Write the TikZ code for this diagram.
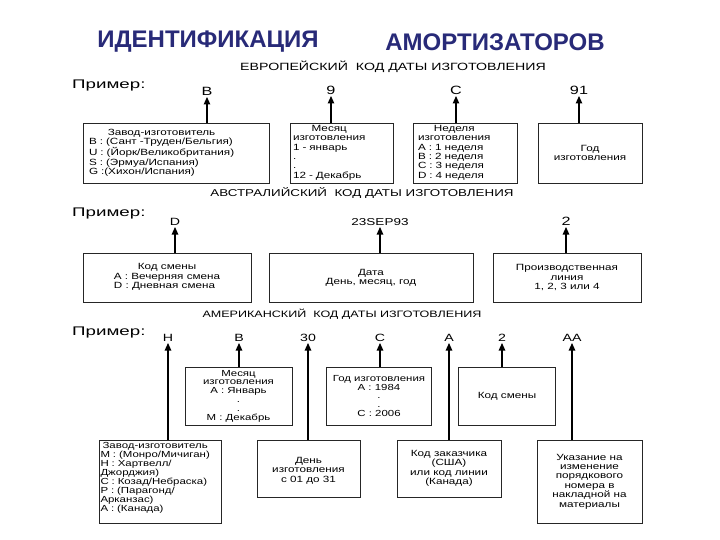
\documentclass[tikz,border=0pt]{standalone}
\usepackage{fontspec}
\setmainfont{Liberation Sans}
\newfontfamily\widefont{Liberation Sans}[FakeStretch=1.35]
\newfontfamily\primfont{Liberation Sans}[FakeStretch=1.5]
\newfontfamily\boxff{Liberation Sans}[FakeStretch=1.3]
\usetikzlibrary{arrows.meta}
\newcommand\boxfont{\boxff\fontsize{9}{9.4}\selectfont}
\newcommand\tightfont{\boxff\fontsize{8.8}{8.8}\selectfont}
\definecolor{navy}{RGB}{40,42,120}
\begin{document}
\begin{tikzpicture}[x=1pt,y=-1pt,
  box/.style={draw=black!85, line width=0.8pt, inner sep=0pt, font=\boxfont},
  lbl/.style={inner sep=1.5pt, anchor=south, font=\widefont\fontsize{10.5}{11}\selectfont},
  lblbig/.style={lbl, font=\widefont\fontsize{12}{12}\selectfont},
  arr/.style={line width=1.1pt, -{Triangle[length=7.5pt,width=6.5pt]}},
  ttl/.style={font=\fontsize{24}{24}\selectfont\bfseries, text=navy, inner sep=0pt},
  sub/.style={font=\widefont\fontsize{9.3}{10}\selectfont, inner sep=0pt},
  prim/.style={font=\primfont\fontsize{12.5}{13}\selectfont, inner sep=0pt, anchor=west},
]
\useasboundingbox (0,0) rectangle (720,540);
\fill[white] (0,0) rectangle (720,540);

% titles
\node[ttl] (t1) at (208,42) {ИДЕНТИФИКАЦИЯ};
\node[ttl] (t2) at (495,42) {АМОРТИЗАТОРОВ};

% ---------------- European
\node[sub, font=\widefont\fontsize{10.5}{11}\selectfont] (s1) at (393,67) {ЕВРОПЕЙСКИЙ\ \ КОД ДАТЫ ИЗГОТОВЛЕНИЯ};
\node[prim] (p1) at (72,85) {Пример:};
\node[lblbig] (eB) at (207,97) {B};
\node[lblbig] (e9) at (331,96) {9};
\node[lblbig] (eC) at (456,96) {C};
\node[lblbig] (e91) at (579,96) {91};

\node[box, minimum width=186, minimum height=60, text width=174, inner xsep=6, align=left] (E1) at (176,153)
 {\begin{tabular}{@{}l@{}}\multicolumn{1}{@{}c@{}}{Завод-изготовитель}\\
 B : (Сант -Труден/Бельгия)\\ U : (Йорк/Великобритания)\\ S : (Эрмуа/Испания)\\ G :(Хихон/Испания)\end{tabular}};
\node[box, minimum width=103, minimum height=60, text width=97, inner xsep=3, align=left] (E2) at (341.5,153)
 {\begin{tabular}{@{}l@{}}\multicolumn{1}{@{}c@{}}{Месяц}\\ изготовления\\ 1 - январь\\ .\\ .\\ 12 - Декабрь\end{tabular}};
\node[box, minimum width=104, minimum height=60, text width=94, inner xsep=5, align=left] (E3) at (465,153)
 {\begin{tabular}{@{}l@{}}\multicolumn{1}{@{}c@{}}{Неделя}\\ изготовления\\ A : 1 неделя\\ B : 2 неделя\\ C : 3 неделя\\ D : 4 неделя\end{tabular}};
\node[box, minimum width=104, minimum height=60, align=center] (E4) at (590,153) {Год\\изготовления};

\draw[arr] (eB |- E1.north) -- (eB.south);
\draw[arr] (e9 |- E2.north) -- (e9.south);
\draw[arr] (eC |- E3.north) -- (eC.south);
\draw[arr] (e91 |- E4.north) -- (e91.south);

% ---------------- Australian
\node[sub, font=\widefont\fontsize{9.9}{10}\selectfont] (s2) at (362,193) {АВСТРАЛИЙСКИЙ\ \ КОД ДАТЫ ИЗГОТОВЛЕНИЯ};
\node[prim] (p2) at (72,213) {Пример:};
\node[lbl] (aD) at (175,227) {D};
\node[lbl, font=\widefont\fontsize{10}{11}\selectfont] (aDate) at (380,227) {23SEP93};
\node[lblbig] (a2) at (566,227) {2};

\node[box, minimum width=168, minimum height=49, align=center] (A1) at (167,277.5)
 {\begin{tabular}{@{}l@{}}\multicolumn{1}{@{}c@{}}{Код смены}\\ A : Вечерняя смена\\ D : Дневная смена\end{tabular}};
\node[box, minimum width=204, minimum height=49, align=center] (A2) at (371,277.5) {Дата\\День, месяц, год};
\node[box, minimum width=148, minimum height=49, align=center] (A3) at (567,277.5) {Производственная\\линия\\1, 2, 3 или 4};

\draw[arr] (aD |- A1.north) -- (aD.south);
\draw[arr] (aDate |- A2.north) -- (aDate.south);
\draw[arr] (a2 |- A3.north) -- (a2.south);

% ---------------- American
\node[sub] (s3) at (342,314) {АМЕРИКАНСКИЙ\ \ КОД ДАТЫ ИЗГОТОВЛЕНИЯ};
\node[prim] (p3) at (72,332) {Пример:};
\node[lbl] (mH) at (168,343) {H};
\node[lbl] (mB) at (239,343) {B};
\node[lbl] (m30) at (308,343) {30};
\node[lbl] (mC) at (380,343) {C};
\node[lbl] (mA) at (449,343) {A};
\node[lbl] (m2) at (502,343) {2};
\node[lbl] (mAA) at (572,343) {AA};

\node[box, minimum width=107, minimum height=58, align=center, font=\tightfont] (M1) at (238.5,396)
 {Месяц\\изготовления\\A : Январь\\.\\.\\M : Декабрь};
\node[box, minimum width=105, minimum height=58, align=center, font=\tightfont] (M2) at (379,396)
 {Год изготовления\\A : 1984\\.\\.\\C : 2006};
\node[box, minimum width=97, minimum height=58, align=center] (M3) at (507,396) {Код смены};

\node[box, minimum width=122, minimum height=83, text width=119, inner xsep=1.5, align=left, font=\tightfont] (B1) at (160,481.5)
 {\begin{tabular}{@{}l@{}}\multicolumn{1}{@{}c@{}}{Завод-изготовитель}\\ M : (Монро/Мичиган)\\ H : Хартвелл/\\ Джорджия)\\ C : Козад/Небраска)\\ P : (Парагонд/\\ Арканзас)\\ A : (Канада)\\[6pt]\end{tabular}};
\node[box, minimum width=103, minimum height=57, align=center] (B2) at (308.5,468.5) {\mbox{}\\[1pt]День\\изготовления\\с 01 до 31};
\node[box, minimum width=104, minimum height=57, align=center] (B3) at (449,468.5) {Код заказчика\\(США)\\или код линии\\(Канада)};
\node[box, minimum width=105, minimum height=83, align=center] (B4) at (589.5,481.5) {Указание на\\изменение\\порядкового\\номера в\\накладной на\\материалы};

\draw[arr] (mH |- B1.north) -- (mH.south);
\draw[arr] (mB |- M1.north) -- (mB.south);
\draw[arr] (m30 |- B2.north) -- (m30.south);
\draw[arr] (mC |- M2.north) -- (mC.south);
\draw[arr] (mA |- B3.north) -- (mA.south);
\draw[arr] (m2 |- M3.north) -- (m2.south);
\draw[arr] (mAA |- B4.north) -- (mAA.south);
\end{tikzpicture}
\end{document}
